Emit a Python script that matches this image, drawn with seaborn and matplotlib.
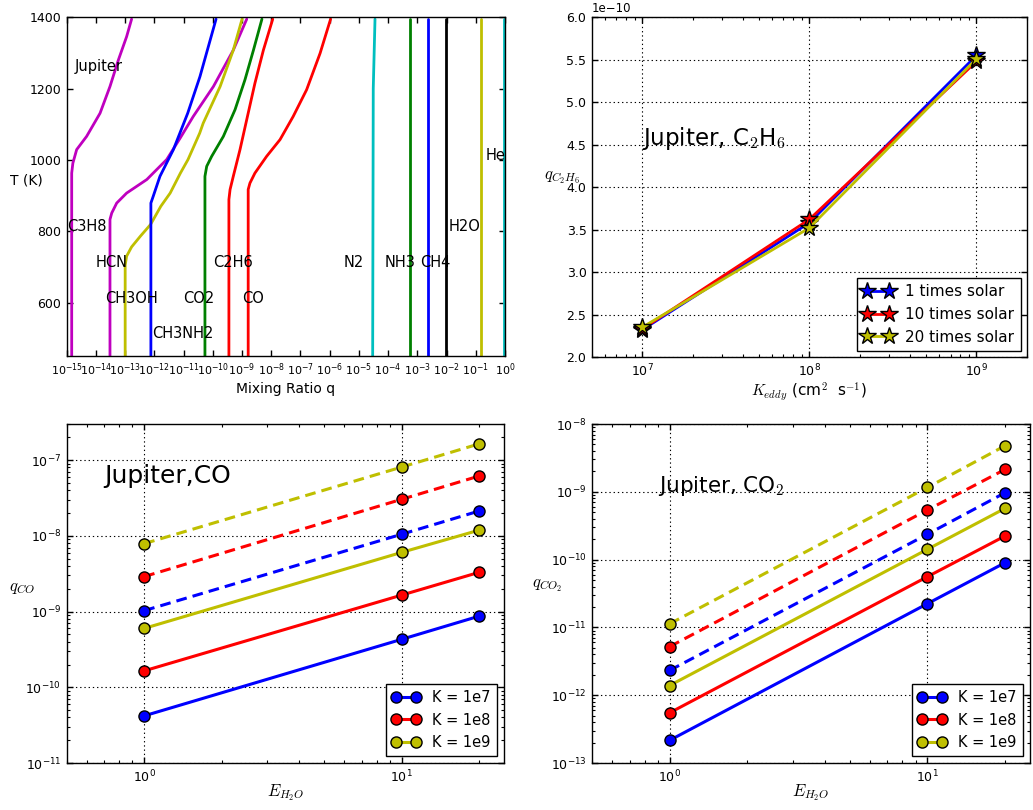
import numpy as np
import matplotlib
matplotlib.use("Agg")
import matplotlib.pyplot as plt
import seaborn as sns
from matplotlib.ticker import FixedLocator, NullLocator

# ---------------- data: top-left (T profiles, log10 mixing ratio) ----------------
T_C3H8 = [450, 963, 991, 1029, 1066, 1131, 1206, 1281, 1346, 1395]
lq_C3H8 = [-14.83, -14.83, -14.79, -14.66, -14.32, -13.86, -13.52, -13.23, -12.95, -12.78]
T_HCN = [450, 833, 851, 879, 907, 945, 1001, 1061, 1122, 1206, 1308, 1395]
lq_HCN = [-13.52, -13.52, -13.46, -13.29, -12.95, -12.26, -11.58, -11.12, -10.67, -9.98, -9.30, -8.84]
T_CH3OH = [450, 705, 730, 756, 786, 819, 870, 907, 963, 1001, 1075, 1103, 1206, 1308, 1395]
lq_CH3OH = [-13.0, -13.0, -12.95, -12.78, -12.48, -12.13, -11.78, -11.46, -11.11, -10.85, -10.45, -10.33, -9.75, -9.30, -9.0]
T_CH3NH2 = [450, 879, 898, 954, 1029, 1131, 1234, 1395]
lq_CH3NH2 = [-12.12, -12.12, -12.04, -11.81, -11.35, -10.86, -10.44, -9.89]
T_CO2 = [450, 954, 982, 1010, 1066, 1141, 1225, 1308, 1395]
lq_CO2 = [-10.27, -10.27, -10.21, -10.04, -9.64, -9.24, -8.90, -8.61, -8.32]
T_C2H6 = [450, 889, 917, 954, 1029, 1113, 1215, 1308, 1395]
lq_C2H6 = [-9.45, -9.45, -9.41, -9.30, -9.07, -8.84, -8.56, -8.27, -7.95]
T_CO = [450, 917, 935, 963, 1010, 1057, 1122, 1197, 1299, 1395]
lq_CO = [-8.79, -8.79, -8.73, -8.56, -8.16, -7.70, -7.25, -6.79, -6.33, -5.97]
T_N2 = [450, 1200, 1395]
lq_N2 = [-4.53, -4.51, -4.45]
T_const = [450, 1395]
lq_NH3 = [-3.24, -3.24]
lq_CH4 = [-2.64, -2.64]
lq_H2O = [-2.02, -2.02]
lq_He = [-0.82, -0.82]
lq_H2 = [-0.03, -0.03]
TL_xticks = [1e-15, 1e-14, 1e-13, 1e-12, 1e-11, 1e-10, 1e-9, 1e-8, 1e-7, 1e-6,
             1e-5, 1e-4, 1e-3, 1e-2, 1e-1, 1e0]
TL_yticks = [600, 800, 1000, 1200, 1400]

# ---------------- data: top-right (C2H6 vs Keddy) ----------------
K_eddy = [1e7, 1e8, 1e9]
q_C2H6_1x = [2.32e-10, 3.58e-10, 5.55e-10]
q_C2H6_10x = [2.33e-10, 3.62e-10, 5.48e-10]
q_C2H6_20x = [2.35e-10, 3.52e-10, 5.51e-10]
solar_labels = ["1 times solar", "10 times solar", "20 times solar"]
TR_xticks = [1e7, 1e8, 1e9]
TR_yticks = [2.0e-10, 2.5e-10, 3.0e-10, 3.5e-10, 4.0e-10, 4.5e-10, 5.0e-10, 5.5e-10, 6.0e-10]

# ---------------- data: bottom panels (vs E_H2O) ----------------
E_H2O = [1, 10, 20]
K_labels = ["K = 1e7", "K = 1e8", "K = 1e9"]
qCO_solid = [[4.2e-11, 4.3e-10, 8.7e-10],
             [1.65e-10, 1.65e-9, 3.3e-9],
             [6.0e-10, 6.05e-9, 1.19e-8]]
qCO_dashed = [[1.03e-9, 1.05e-8, 2.13e-8],
              [2.9e-9, 3.04e-8, 6.17e-8],
              [7.9e-9, 8.1e-8, 1.64e-7]]
qCO2_solid = [[2.16e-13, 2.24e-11, 9.0e-11],
              [5.5e-13, 5.6e-11, 2.23e-10],
              [1.39e-12, 1.42e-10, 5.7e-10]]
qCO2_dashed = [[2.32e-12, 2.37e-10, 9.7e-10],
               [5.2e-12, 5.4e-10, 2.14e-9],
               [1.13e-11, 1.16e-9, 4.78e-9]]
B_xticks = [1, 10]
BL_yticks = [1e-11, 1e-10, 1e-9, 1e-8, 1e-7]
BR_yticks = [1e-13, 1e-12, 1e-11, 1e-10, 1e-9, 1e-8]

# ---------------- style ----------------
sns.set_theme(style="ticks", rc={
    "xtick.direction": "in", "ytick.direction": "in",
    "xtick.top": True, "ytick.right": True,
    "xtick.major.size": 4, "ytick.major.size": 4,
    "xtick.minor.size": 2, "ytick.minor.size": 2,
    "xtick.major.width": 1, "ytick.major.width": 1,
    "xtick.minor.width": 0.8, "ytick.minor.width": 0.8,
    "axes.linewidth": 1.0, "axes.edgecolor": "black",
    "xtick.color": "black", "ytick.color": "black",
    "text.color": "black", "axes.labelcolor": "black",
    "xtick.major.pad": 4, "ytick.major.pad": 4,
})
plt.rcParams["font.family"] = ["DejaVu Sans"]
plt.rcParams["mathtext.fontset"] = "cm"

B, G, R, C, M, Y, K = "#0000ff", "#008000", "#ff0000", "#00bfbf", "#bf00bf", "#bfbf00", "#000000"
GRID = dict(color="black", linestyle=(0, (1.2, 2.6)), linewidth=0.8)

fig = plt.figure(figsize=(10.33, 8.10), dpi=100)
ax1 = fig.add_axes([0.0646, 0.5605, 0.4243, 0.4181])
ax2 = fig.add_axes([0.5731, 0.5593, 0.4208, 0.4194])
ax3 = fig.add_axes([0.0646, 0.0580, 0.4233, 0.4185])
ax4 = fig.add_axes([0.5731, 0.0580, 0.4240, 0.4185])

# ---------------- top-left ----------------
ax1.set_xscale("log")
curves = [(T_C3H8, lq_C3H8, M), (T_HCN, lq_HCN, M), (T_CH3OH, lq_CH3OH, Y),
          (T_CH3NH2, lq_CH3NH2, B), (T_CO2, lq_CO2, G), (T_C2H6, lq_C2H6, R),
          (T_CO, lq_CO, R), (T_N2, lq_N2, C), (T_const, lq_NH3, G),
          (T_const, lq_CH4, B), (T_const, lq_H2O, K), (T_const, lq_He, Y),
          (T_const, lq_H2, C)]
for T, lq, col in curves:
    sns.lineplot(x=10 ** np.array(lq), y=np.array(T, dtype=float), ax=ax1,
                 color=col, lw=2, sort=False, estimator=None)
ax1.set_xlim(1e-15, 1)
ax1.set_ylim(450, 1400)
ax1.xaxis.set_major_locator(FixedLocator(TL_xticks))
ax1.xaxis.set_minor_locator(NullLocator())
ax1.yaxis.set_major_locator(FixedLocator(TL_yticks))
ax1.tick_params(axis="x", labelsize=8)
ax1.tick_params(axis="y", labelsize=9)
ax1.set_xlabel("Mixing Ratio q", fontsize=10, labelpad=3)
ax1.set_ylabel("T (K)", fontsize=10, rotation=0, ha="center", va="center")
ax1.yaxis.set_label_coords(-0.092, 0.517)
tl_fs = 10.5
for txt, x, y in [("Jupiter", 1.9e-15, 1250), ("C3H8", 1e-15, 800), ("HCN", 1e-14, 700),
                  ("CH3OH", 2.0e-14, 600), ("CH3NH2", 8.1e-13, 500), ("CO2", 1e-11, 600),
                  ("C2H6", 1e-10, 700), ("CO", 1e-9, 600), ("N2", 3e-6, 700),
                  ("NH3", 7.8e-5, 700), ("CH4", 1.2e-3, 700), ("H2O", 1.15e-2, 800),
                  ("He", 0.21, 1000)]:
    ax1.text(x, y, txt, fontsize=tl_fs, ha="left", va="baseline")

# ---------------- top-right ----------------
ax2.set_xscale("log")
for qs, col, lab in zip([q_C2H6_1x, q_C2H6_10x, q_C2H6_20x], [B, R, Y], solar_labels):
    sns.lineplot(x=K_eddy, y=qs, ax=ax2, color=col, lw=2, marker="*", markersize=13,
                 markeredgecolor="black", markeredgewidth=1, label=lab,
                 sort=False, estimator=None, legend=False)
ax2.set_xlim(5e6, 2e9)
ax2.set_ylim(2e-10, 6e-10)
ax2.xaxis.set_major_locator(FixedLocator(TR_xticks))
ax2.yaxis.set_major_locator(FixedLocator(TR_yticks))
ax2.grid(True, which="major", **GRID)
ax2.tick_params(labelsize=9)
ax2.yaxis.get_offset_text().set_visible(False)
ax2.text(0.0, 1.006, "1e\u221210", transform=ax2.transAxes, fontsize=8.5,
         ha="left", va="bottom")
ax2.set_xlabel(r"$K_{eddy}$ (cm$^2$  s$^{-1}$)", fontsize=11, labelpad=1)
ax2.set_ylabel(r"$q_{C_2H_6}$", fontsize=12, rotation=0, ha="center", va="center")
ax2.yaxis.set_label_coords(-0.070, 0.53)
ax2.text(1e7, 4.5e-10, r"Jupiter, C$_2$H$_6$", fontsize=16.5, ha="left", va="baseline")
ax2.legend(loc="lower right", numpoints=2, fancybox=False, edgecolor="black",
           framealpha=1, fontsize=11, borderaxespad=0.4)

# ---------------- bottom panels ----------------
def bottom(ax, solid, dashed, ylim, yticks, ylab, title, tpos, tfs, ylab_xy):
    ax.set_xscale("log")
    ax.set_yscale("log")
    for qs, qd, col, lab in zip(solid, dashed, [B, R, Y], K_labels):
        sns.lineplot(x=E_H2O, y=qs, ax=ax, color=col, lw=2.2, marker="o", markersize=8,
                     markeredgecolor="black", markeredgewidth=1, label=lab,
                     sort=False, estimator=None, legend=False)
        sns.lineplot(x=E_H2O, y=qd, ax=ax, color=col, lw=2.2, marker="o", markersize=8,
                     markeredgecolor="black", markeredgewidth=1, label="_nolegend_",
                     linestyle=(0, (3.5, 2.0)), sort=False, estimator=None, legend=False)
    ax.set_xlim(0.5, 25)
    ax.set_ylim(*ylim)
    ax.xaxis.set_major_locator(FixedLocator(B_xticks))
    ax.yaxis.set_major_locator(FixedLocator(yticks))
    ax.grid(True, which="major", **GRID)
    ax.tick_params(labelsize=9)
    ax.set_xlabel(r"$E_{H_2O}$", fontsize=12, labelpad=-2)
    ax.set_ylabel(ylab, fontsize=12, rotation=0, ha="center", va="center")
    ax.yaxis.set_label_coords(*ylab_xy)
    ax.text(tpos[0], tpos[1], title, fontsize=tfs, ha="left", va="baseline")
    handles, labels = ax.get_legend_handles_labels()
    ax.legend(handles[:3], labels[:3], loc="lower right", numpoints=2, fancybox=False,
              edgecolor="black", framealpha=1, fontsize=10.5, borderaxespad=0.5)

bottom(ax3, qCO_solid, qCO_dashed, (1e-11, 3e-7), BL_yticks, r"$q_{CO}$", "Jupiter,CO",
       (0.7, 5e-8), 18, (-0.103, 0.52))
bottom(ax4, qCO2_solid, qCO2_dashed, (1e-13, 1e-8), BR_yticks, r"$q_{CO_2}$",
       r"Jupiter, CO$_2$", (0.9, 1e-9), 15.5, (-0.102, 0.525))

fig.savefig("out.png", dpi=100)
